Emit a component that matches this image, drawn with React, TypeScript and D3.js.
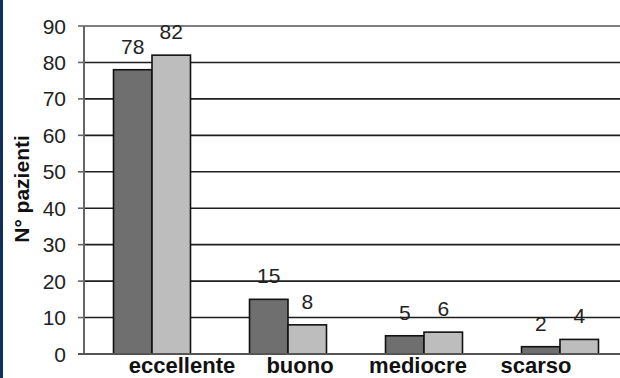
import React from 'react';
import * as d3 from 'd3';

const categories = ['eccellente', 'buono', 'mediocre', 'scarso'];
const seriesA = [78, 15, 5, 2];
const seriesB = [82, 8, 6, 4];
const yTicks = [0, 10, 20, 30, 40, 50, 60, 70, 80, 90];
const yTitle = 'N° pazienti';

const App = () => {
    const width = 620;
    const height = 378;

    const margin = { top: 26, left: 84, bottom: 24 };
    const plotBottom = height - margin.bottom;

    const yScale = d3.scaleLinear()
        .domain([0, 90])
        .range([plotBottom, margin.top]);

    // band runs past the right edge, like the cropped original
    const xScale = d3.scaleBand()
        .domain(categories)
        .range([margin.left, margin.left + 544])
        .paddingInner(0.434)
        .paddingOuter(0.217);

    const barW = xScale.bandwidth() / 2;

    // category labels sit a bit off the bars in the reference
    const labelScale = d3.scalePoint()
        .domain(categories)
        .range([182, 536]);

    const font = 'Arial, "Liberation Sans", sans-serif';

    const series = [
        { values: seriesA, fill: '#6f6f6f', offset: 0 },
        { values: seriesB, fill: '#bdbdbd', offset: 1 }
    ];

    return (
        <svg width={width} height={height} style={{ position: 'absolute', left: 0, top: 0, display: 'block', background: '#fff' }}>
            <rect x={0} y={0} width={3} height={height} fill='#0f2f5f' />

            {/* grid */}
            {yTicks.filter(t => t > 0).map(t => (
                <line key={'g' + t} x1={margin.left} x2={width} y1={yScale(t)} y2={yScale(t)}
                    stroke={t === 90 ? '#555' : '#1e1e1e'} strokeWidth={1.6} />
            ))}

            {/* y axis */}
            <line x1={margin.left} x2={margin.left} y1={margin.top} y2={plotBottom} stroke='#666' strokeWidth={2} />
            {yTicks.map(t => (
                <g key={'t' + t}>
                    <line x1={margin.left - 6} x2={margin.left} y1={yScale(t)} y2={yScale(t)} stroke='#666' strokeWidth={1.6} />
                    <text x={66} y={yScale(t) + 7.5} textAnchor='end' fontFamily={font} fontSize={21} fill='#222'>{t}</text>
                </g>
            ))}

            <text transform={`translate(29, 189) rotate(-90)`} textAnchor='middle' fontFamily={font}
                fontSize={21} fontWeight='bold' fill='#111'>{yTitle}</text>

            {/* bars */}
            {series.map((s, si) => (
                <g key={'s' + si}>
                    {categories.map((c, i) => {
                        const x = xScale(c) + s.offset * barW;
                        const y = yScale(s.values[i]);
                        return (
                            <g key={c}>
                                <rect x={x} y={y} width={barW} height={plotBottom - y}
                                    fill={s.fill} stroke='#111' strokeWidth={1.6} />
                                <text x={x + barW / 2} y={y - 16} textAnchor='middle' fontFamily={font}
                                    fontSize={21} fill='#222'>{s.values[i]}</text>
                            </g>
                        );
                    })}
                </g>
            ))}

            {/* x axis */}
            <line x1={margin.left - 6} x2={width} y1={plotBottom} y2={plotBottom} stroke='#555' strokeWidth={2.2} />
            {categories.map(c => (
                <text key={'l' + c} x={labelScale(c)} y={372.5} textAnchor='middle' fontFamily={font}
                    fontSize={22} fontWeight='bold' fill='#111'>{c}</text>
            ))}
        </svg>
    );
};

export default App;
